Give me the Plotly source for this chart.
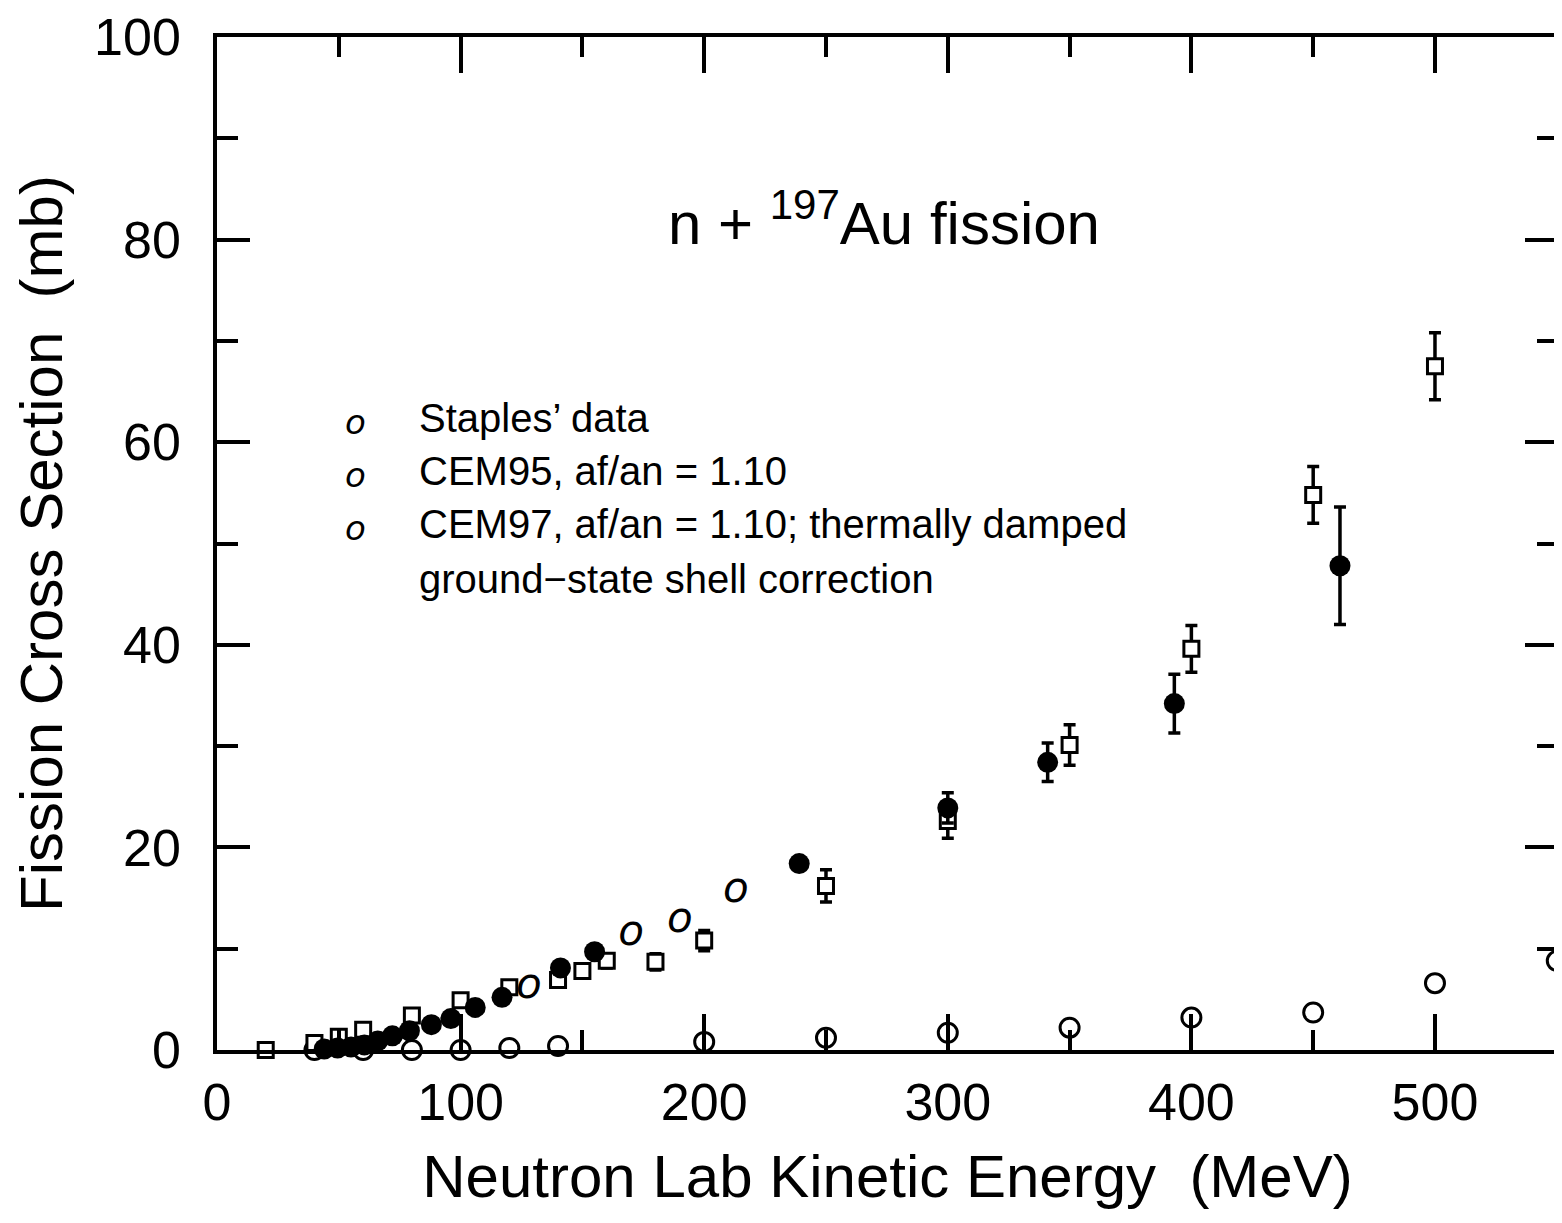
import plotly.graph_objects as go

# Staples' data (filled circles, measured)
staples_e = [44, 49.5, 55, 60.5, 66, 72, 79, 88, 96, 106, 117, 141, 155, 239, 300, 341, 393, 461]
staples_s = [0.1, 0.2, 0.3, 0.5, 0.9, 1.4, 1.9, 2.5, 3.1, 4.2, 5.2, 8.1, 9.7, 18.4, 23.9, 28.4, 34.2, 47.8]
staples_err = [0, 0, 0, 0, 0, 0, 0, 0, 0, 0, 0, 0, 0, 0.5, 1.5, 1.9, 2.9, 5.8]

# CEM97 (open squares with statistical errors)
cem97_e = [20, 40, 50, 60, 80, 100, 120, 140, 150, 160, 180, 200, 250, 300, 350, 400, 450, 500]
cem97_s = [0.0, 0.7, 1.3, 2.0, 3.4, 4.9, 6.2, 6.9, 7.8, 8.8, 8.7, 10.8, 16.2, 22.6, 30.1, 39.6, 54.8, 67.5]
cem97_err = [0.1, 0.3, 0.3, 0.3, 0.4, 0.4, 0.5, 0.6, 0.7, 0.7, 0.8, 1.0, 1.6, 1.7, 2.0, 2.3, 2.8, 3.3]

# CEM95 (open circles near zero)
cem95_e = [40, 60, 80, 100, 120, 140, 200, 250, 300, 350, 400, 450, 500, 550]
cem95_s = [0.0, 0.0, 0.0, 0.0, 0.2, 0.4, 0.8, 1.2, 1.7, 2.2, 3.2, 3.7, 6.6, 8.8]

# extra tilted oval points
oval_e = [128, 170, 190, 213]
oval_s = [6.2, 11.4, 12.7, 15.6]

legend_labels = [
    "Staples\u2019 data",
    "CEM95, af/an = 1.10",
    "CEM97, af/an = 1.10; thermally damped",
    "ground\u2212state shell correction",
]

FONT = "Liberation Sans, Arial, sans-serif"
BLACK = "#000000"

fig = go.Figure()

fig.add_trace(go.Scatter(
    x=cem95_e, y=cem95_s, mode="markers",
    marker=dict(symbol="circle-open", size=19, color=BLACK, line=dict(width=3, color=BLACK)),
    cliponaxis=False, showlegend=False,
))

fig.add_trace(go.Scatter(
    x=cem97_e, y=cem97_s, mode="markers",
    marker=dict(symbol="square", size=15, color="white", line=dict(width=3, color=BLACK)),
    error_y=dict(type="data", array=cem97_err, color=BLACK, thickness=3.5, width=6),
    cliponaxis=False, showlegend=False,
))

fig.add_trace(go.Scatter(
    x=staples_e, y=staples_s, mode="markers",
    marker=dict(symbol="circle", size=21, color=BLACK),
    error_y=dict(type="data", array=staples_err, color=BLACK, thickness=3.5, width=6),
    cliponaxis=False, showlegend=False,
))

fig.add_trace(go.Scatter(
    x=oval_e, y=oval_s, mode="text",
    text=["<i>o</i>"] * len(oval_e),
    textfont=dict(family="DejaVu Sans", size=42, color=BLACK),
    cliponaxis=False, showlegend=False,
))

# title inside the plot
fig.add_annotation(
    x=274, y=82, xref="x", yref="y", showarrow=False,
    text="n + <sup>197</sup>Au fission",
    font=dict(family=FONT, size=60, color=BLACK),
)

# legend drawn as text
leg_y = [62.4, 57.2, 51.9, 46.5]
for i, lab in enumerate(legend_labels):
    fig.add_annotation(
        x=82, y=leg_y[i], xref="x", yref="y", showarrow=False,
        xanchor="left", yanchor="middle", text=lab,
        font=dict(family=FONT, size=40, color=BLACK),
    )
    if i < 3:
        fig.add_annotation(
            x=57, y=leg_y[i] - 0.4, xref="x", yref="y", showarrow=False,
            text="<i>o</i>",
            font=dict(family="DejaVu Sans", size=34, color=BLACK),
        )

# page body adds an 8 px offset, so the figure is sized to fit
fig.update_layout(
    width=1554, height=1215,
    margin=dict(l=209, r=0, t=22, b=173),
    paper_bgcolor="white", plot_bgcolor="white",
    font=dict(family=FONT, color=BLACK),
)

fig.update_xaxes(
    range=[0, 550.5], showgrid=False, zeroline=False,
    showline=True, linewidth=3.5, linecolor=BLACK, mirror="ticks",
    ticks="inside", ticklen=36, tickwidth=3.5, tickcolor=BLACK,
    tickvals=[0, 100, 200, 300, 400, 500],
    ticklabelstandoff=4, ticklabeloverflow="allow",
    tickfont=dict(family=FONT, size=52, color=BLACK),
    minor=dict(ticks="inside", ticklen=20, tickwidth=3.5, tickcolor=BLACK, dtick=50, showgrid=False),
    title=dict(text="Neutron Lab Kinetic Energy \u00a0(MeV)", standoff=26,
               font=dict(family=FONT, size=60, color=BLACK)),
)

fig.update_yaxes(
    range=[0, 100], showgrid=False, zeroline=False,
    showline=True, linewidth=3.5, linecolor=BLACK, mirror="ticks",
    ticks="inside", ticklen=33, tickwidth=3.5, tickcolor=BLACK,
    tickvals=[0, 20, 40, 60, 80, 100],
    ticklabelstandoff=22, ticklabeloverflow="allow",
    tickfont=dict(family=FONT, size=52, color=BLACK),
    minor=dict(ticks="inside", ticklen=21, tickwidth=3.5, tickcolor=BLACK, dtick=10, showgrid=False),
    title=dict(text="Fission Cross Section \u00a0(mb)", standoff=20,
               font=dict(family=FONT, size=60, color=BLACK)),
)

fig.write_html("out.html")
